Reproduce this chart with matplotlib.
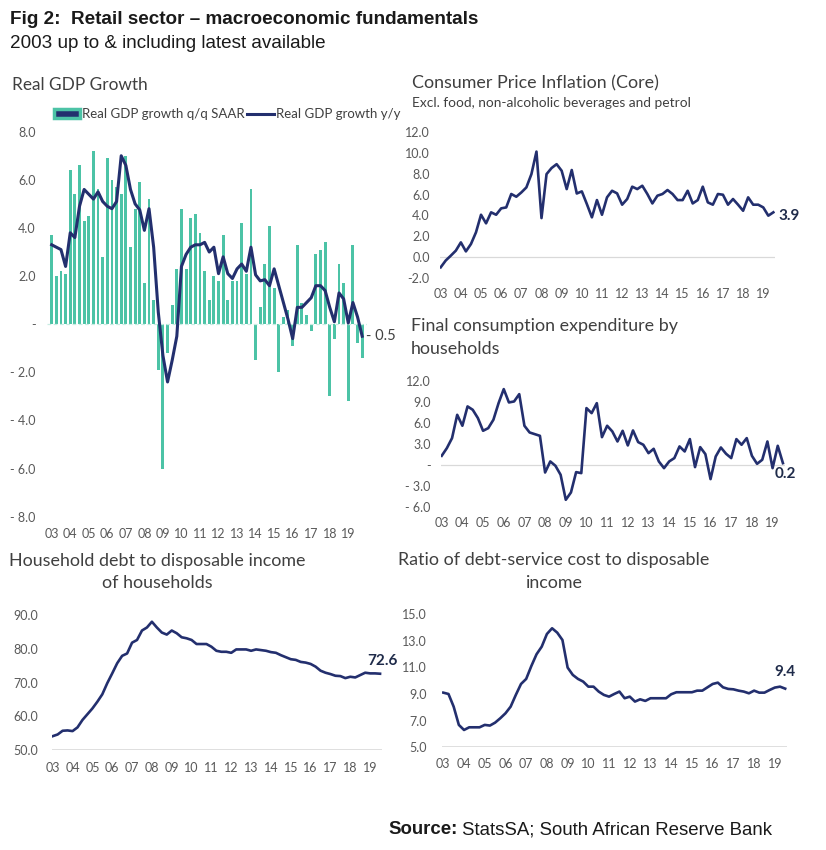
import matplotlib
matplotlib.use("Agg")
import matplotlib.pyplot as plt
from matplotlib.patches import Patch
from matplotlib.lines import Line2D

plt.rcParams['font.family'] = ['Lato', 'DejaVu Sans']

# quarterly data, 2003Q1 onwards
year_labels = ['03', '04', '05', '06', '07', '08', '09', '10', '11',
               '12', '13', '14', '15', '16', '17', '18', '19']

gdp_qq = [3.7, 2.0, 2.2, 2.1, 6.4, 5.4, 6.6, 4.3, 4.5, 7.2, 5.6, 2.8,
          6.9, 6.0, 5.7, 5.4, 7.0, 3.2, 4.8, 5.9, 1.7, 5.2, 1.0, -1.9,
          -6.0, -1.2, 0.8, 2.3, 4.8, 2.3, 4.4, 4.6, 3.8, 2.2, 1.0, 2.0,
          1.8, 3.7, 1.0, 1.8, 1.8, 4.2, 2.1, 5.6, -1.5, 0.7, 2.5, 4.1,
          1.5, -2.0, 0.3, 0.6, -0.9, 3.3, 0.9, 0.4, -0.3, 2.9, 3.1, 3.4,
          -3.0, -0.6, 2.5, 1.7, -3.2, 3.3, -0.8, -1.4]
gdp_yy = [3.3, 3.2, 3.1, 2.4, 3.8, 3.6, 4.9, 5.6, 5.4, 5.2, 5.5, 5.1,
          4.9, 4.8, 5.1, 7.0, 6.6, 5.6, 5.0, 4.75, 3.9, 4.8, 3.2, 0.5,
          -1.3, -2.4, -1.5, -0.5, 2.4, 2.9, 3.2, 3.3, 3.3, 3.4, 3.0, 3.2,
          2.1, 2.8, 2.1, 1.9, 2.3, 2.5, 2.2, 3.2, 2.05, 1.8, 1.85, 1.6,
          2.3, 1.6, 0.9, 0.2, -0.6, 0.7, 0.7, 0.9, 1.1, 1.6, 1.6, 1.4,
          0.7, 0.1, 1.3, 1.05, 0.05, 0.9, 0.3, -0.5]

cpi_core = [-0.95, -0.3, 0.16, 0.64, 1.43, 0.57, 1.27, 2.39, 4.07, 3.25,
            4.3, 4.07, 4.68, 4.77, 6.05, 5.79, 6.2, 6.68, 7.95, 10.1,
            3.75, 7.95, 8.53, 8.9, 8.27, 6.52, 8.34, 6.1, 6.3, 5.09,
            3.82, 5.47, 4.07, 5.73, 6.36, 6.11, 5.03, 5.57, 6.75, 6.52,
            6.84, 6.05, 5.15, 5.89, 6.05, 6.43, 6.05, 5.47, 5.47, 6.36,
            5.15, 5.47, 6.75, 5.25, 5.03, 6.05, 5.98, 5.03, 5.57, 5.03,
            4.45, 5.73, 5.03, 5.03, 4.77, 3.98, 4.3]

hh_consumption = [1.29, 2.39, 3.82, 7.16, 5.59, 8.36, 7.88, 6.69, 4.87, 5.25,
                  6.45, 8.83, 10.84, 8.93, 9.07, 10.12, 5.59, 4.63, 4.39, 4.15,
                  -1.1, 0.48, -0.14, -1.43, -5.01, -3.96, -1.05, -1.19, 8.12, 7.4,
                  8.83, 3.96, 5.59, 4.78, 3.34, 4.87, 2.77, 4.92, 3.25, 2.87,
                  1.67, 2.29, 0.48, -0.48, 0.48, 0.96, 2.63, 1.91, 3.68, -0.33,
                  2.53, 1.53, -2.05, 1.19, 2.48, 1.58, 0.96, 3.68, 2.87, 3.82,
                  1.29, 0.14, 0.72, 3.34, -0.48, 2.72, 0.24]

hh_debt = [54.1, 54.6, 55.7, 55.8, 55.6, 56.7, 58.9, 60.6, 62.3, 64.3,
           66.5, 69.8, 72.7, 75.7, 77.9, 78.6, 81.8, 82.6, 85.4, 86.3,
           88.0, 86.3, 84.8, 84.2, 85.4, 84.6, 83.4, 83.1, 82.6, 81.4,
           81.4, 81.4, 80.6, 79.4, 79.1, 79.1, 78.8, 79.8, 79.8, 79.8,
           79.4, 79.8, 79.6, 79.4, 79.0, 78.8, 78.1, 77.5, 76.9, 76.7,
           76.1, 75.9, 75.5, 74.7, 73.5, 72.9, 72.5, 72.0, 71.9, 71.3,
           71.7, 71.5, 72.2, 72.9, 72.7, 72.7, 72.6]

debt_service = [9.1, 9.0, 8.05, 6.68, 6.3, 6.5, 6.5, 6.5, 6.68, 6.63,
                6.85, 7.18, 7.55, 8.05, 8.93, 9.75, 10.13, 11.1, 11.98, 12.55,
                13.5, 13.93, 13.6, 13.05, 10.98, 10.43, 10.13, 9.93, 9.55, 9.55,
                9.18, 8.93, 8.8, 9.0, 9.18, 8.68, 8.8, 8.43, 8.6, 8.48,
                8.68, 8.68, 8.68, 8.68, 8.98, 9.13, 9.13, 9.13, 9.13, 9.25,
                9.25, 9.5, 9.75, 9.85, 9.5, 9.38, 9.35, 9.25, 9.18, 9.05,
                9.25, 9.1, 9.1, 9.3, 9.48, 9.55, 9.4]

TEAL = '#4cc3a6'
NAVY = '#232f6e'
TXT = '#404040'
TICK = '#595959'
LABEL = '#1f2b4a'
GRID = '#d9d9d9'
TSIZE = 12.9

W, H = 826, 850
fig = plt.figure(figsize=(W / 100, H / 100), dpi=100)


def acct(v):
    if v == 0:
        return '-'
    return f'- {abs(v):.1f}' if v < 0 else f'{v:.1f}'


def panel(x0, dx, xlim, ytop, ybot, ylim, yticks, fmt, ypad, xpad):
    # place axes in pixel coords: x0 = pixel of first quarter, dx = px per quarter
    left = x0 + dx * xlim[0]
    right = x0 + dx * xlim[1]
    ax = fig.add_axes([left / W, 1 - ybot / H, (right - left) / W, (ybot - ytop) / H])
    ax.set_xlim(*xlim)
    ax.set_ylim(*ylim)
    for s in ax.spines.values():
        s.set_visible(False)
    ax.set_xticks(range(0, 65, 4))
    ax.set_xticklabels(year_labels)
    ax.set_yticks(yticks)
    ax.set_yticklabels([fmt(v) for v in yticks])
    ax.tick_params(length=0, colors=TICK, labelsize=9)
    ax.tick_params(axis='y', pad=ypad)
    ax.tick_params(axis='x', pad=xpad)
    ax.patch.set_alpha(0)
    return ax


# --- Real GDP growth ---
ax = panel(51.7, 4.634, (-1, 68), 131.7, 516.7, (-8, 8),
           list(range(-8, 9, 2)), acct, 8.3, 8)
xs = range(len(gdp_qq))
ax.bar(xs, gdp_qq, width=0.62, color=TEAL, zorder=2)
ax.axhline(0, color='#c8ece2', lw=0.9, ls=(0, (3, 2)), zorder=3)
ax.plot(range(len(gdp_yy)), gdp_yy, color=NAVY, lw=2.2, zorder=4)
ax.annotate('- 0.5', (len(gdp_yy) - 1, gdp_yy[-1]), xytext=(3, 0),
            textcoords='offset points', va='center', ha='left',
            fontsize=10.5, color=TXT, annotation_clip=False)
handles = [Patch(facecolor=NAVY, edgecolor=TEAL, lw=2.5),
           Line2D([0], [0], color=NAVY, lw=2.2)]
fig.legend(handles, ['Real GDP growth q/q SAAR', 'Real GDP growth y/y'],
           loc='center left', bbox_to_anchor=(47 / W, 1 - 114 / H), ncol=2,
           frameon=False, fontsize=9.5, handlelength=2.0, handleheight=0.6,
           handletextpad=0.15, columnspacing=0.2, labelcolor=TXT, borderpad=0)

# --- CPI core ---
ax = panel(440.7, 5.04, (-0.2, 66.4), 131.7, 278.3, (-2, 12),
           list(range(-2, 13, 2)), lambda v: f'{v:.1f}', 7.2, 7.2)
ax.axhline(0, color=GRID, lw=0.9, zorder=1)
ax.plot(range(len(cpi_core)), cpi_core, color=NAVY, lw=1.9, zorder=3)
ax.annotate('3.9', (len(cpi_core) - 1, cpi_core[-1]), xytext=(4, -3),
            textcoords='offset points', va='center', ha='left', fontsize=11,
            fontweight='bold', color=LABEL, annotation_clip=False)

# --- Household consumption ---
ax = panel(441.7, 5.17, (-0.2, 66.4), 381, 506.7, (-6, 12),
           list(range(-6, 13, 3)), acct, 7.2, 7.5)
ax.axhline(0, color=GRID, lw=0.9, zorder=1)
ax.plot(range(len(hh_consumption)), hh_consumption, color=NAVY, lw=1.9, zorder=3)
ax.annotate('0.2', (len(hh_consumption) - 1, hh_consumption[-1]), xytext=(-6, -8),
            textcoords='offset points', va='center', ha='left', fontsize=11,
            fontweight='bold', color=LABEL, annotation_clip=False)

# --- Household debt ---
ax = panel(52.7, 4.96, (-0.2, 66.4), 615, 750, (50, 90),
           list(range(50, 91, 10)), lambda v: f'{v:.1f}', 9.5, 8.5)
ax.axhline(50, color=GRID, lw=1.2, zorder=1)
ax.plot(range(len(hh_debt)), hh_debt, color=NAVY, lw=1.9, zorder=3)
ax.annotate('72.6', (len(hh_debt) - 1, hh_debt[-1]), xytext=(-9, 9),
            textcoords='offset points', va='center', ha='left', fontsize=11,
            fontweight='bold', color=LABEL, annotation_clip=False)

# --- Debt service ratio ---
ax = panel(443.3, 5.18, (-0.2, 66.4), 614, 747.3, (5, 15),
           list(range(5, 16, 2)), lambda v: f'{v:.1f}', 11, 8)
ax.axhline(5, color=GRID, lw=1.2, zorder=1)
ax.plot(range(len(debt_service)), debt_service, color=NAVY, lw=1.9, zorder=3)
ax.annotate('9.4', (len(debt_service) - 1, debt_service[-1]), xytext=(-8, 12),
            textcoords='offset points', va='center', ha='left', fontsize=11,
            fontweight='bold', color=LABEL, annotation_clip=False)


def ftext(x, y, s, **kw):
    fig.text(x / W, 1 - y / H, s, **kw)


# titles
ftext(10, 20, 'Fig 2:  Retail sector \u2013 macroeconomic fundamentals',
      family='Liberation Sans', fontweight='bold', fontsize=13.6, va='center', color='#1a1a1a')
ftext(10, 44, '2003 up to & including latest available',
      family='Liberation Sans', fontsize=13.6, va='center', color='#1a1a1a')

ftext(12, 85, 'Real GDP Growth', fontsize=12.4, color=TXT, va='center')
ftext(412, 83, 'Consumer Price Inflation (Core)', fontsize=TSIZE, color=TXT, va='center')
ftext(412, 103, 'Excl. food, non-alcoholic beverages and petrol', fontsize=9.9,
      color=TXT, va='center')
ftext(411, 326, 'Final consumption expenditure by', fontsize=TSIZE, color=TXT, va='center')
ftext(411, 349, 'households', fontsize=TSIZE, color=TXT, va='center')
ftext(157, 561, 'Household debt to disposable income', fontsize=TSIZE, color=TXT,
      va='center', ha='center')
ftext(157, 583, 'of households', fontsize=TSIZE, color=TXT, va='center', ha='center')
ftext(554, 560, 'Ratio of debt-service cost to disposable', fontsize=TSIZE, color=TXT,
      va='center', ha='center')
ftext(554, 583, 'income', fontsize=TSIZE, color=TXT, va='center', ha='center')

# source line
src = fig.text(772 / W, 1 - 830 / H, 'StatsSA; South African Reserve Bank',
               family='Liberation Sans', fontsize=13.4, ha='right', va='center',
               color='#1a1a1a')
fig.canvas.draw()
bb = src.get_window_extent()
fig.text((bb.x0 - 4) / W, 1 - 830 / H, 'Source:', family='Liberation Sans',
         fontsize=13.4, fontweight='bold', ha='right', va='center', color='#1a1a1a')

fig.savefig('out.png', dpi=100, facecolor='white')
